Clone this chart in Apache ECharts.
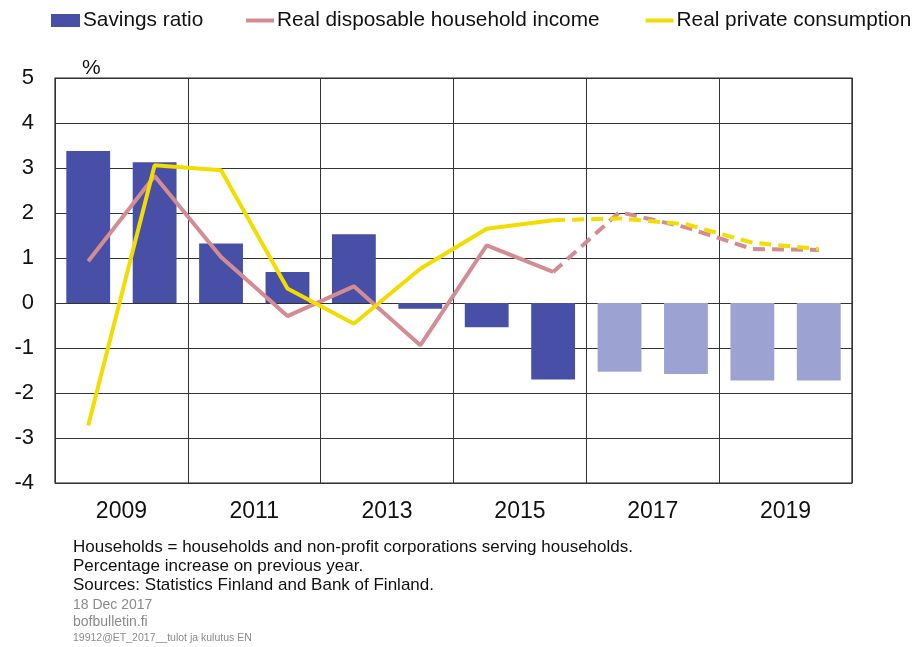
<!DOCTYPE html>
<html>
<head>
<meta charset="utf-8">
<script src="https://cdn.jsdelivr.net/npm/echarts@6/dist/echarts.min.js"></script>
<style>html,body{margin:0;padding:0;background:#fff}#c{width:920px;height:647px}</style>
</head>
<body>
<div id="c"></div>
<script>
const years = ['2009','2010','2011','2012','2013','2014','2015','2016','2017','2018','2019','2020'];
const tickYears = ['2009','2011','2013','2015','2017','2019'];
const savingsRatio = [3.38, 3.13, 1.32, 0.69, 1.53, -0.13, -0.54, -1.70, -1.53, -1.58, -1.72, -1.72];
const disposableIncome = [0.93, 2.82, 1.02, -0.29, 0.37, -0.94, 1.28, 0.69, 2.02, 1.68, 1.20, 1.18];
const privateConsumption = [-2.72, 3.06, 2.95, 0.32, -0.46, 0.76, 1.65, 1.84, 1.88, 1.75, 1.34, 1.20];
const forecastStart = 8; // index of first forecast bar (2017)
const lastActual = 7;    // index where dashed lines begin (2016)

const FONT = 'Liberation Sans, Arial, sans-serif';
const BAR_DARK = '#4750a6', BAR_LIGHT = '#9ca3d3';
const PINK = '#d48c93', YELLOW = '#f3dc00';

function solidPart(arr){ return arr.map((v,i)=> i<=lastActual ? v : null); }
function dashPart(arr){ return arr.map((v,i)=> i>=lastActual ? v : null); }

const legendText = {fontFamily:FONT, fontSize:20.8, color:'#111', padding:[0,0,0,-2]};

const chart = echarts.init(document.getElementById('c'), null, {renderer:'canvas'});
chart.setOption({
  animation:false,
  textStyle:{fontFamily:FONT},
  legend:[
    {top:10, left:51, itemWidth:29, itemHeight:13, padding:0,
     textStyle:legendText,
     data:[{name:'Savings ratio', icon:'rect'}]},
    {top:10, left:246, itemWidth:28, itemHeight:4, itemGap:46, padding:0,
     textStyle:legendText, icon:'rect',
     data:['Real disposable household income','Real private consumption']}
  ],
  grid:{left:55, right:68, top:78, bottom:164, show:true, borderColor:'#222', borderWidth:1.2},
  xAxis:[
    {type:'category', data:years, show:false},
    {type:'category', data:tickYears, position:'bottom', boundaryGap:true,
     axisLine:{show:false}, axisTick:{show:false},
     axisLabel:{fontFamily:FONT, fontSize:23, color:'#111', margin:17},
     splitLine:{show:true, lineStyle:{color:'#333', width:1}}}
  ],
  yAxis:{type:'value', min:-4, max:5, interval:1,
    axisLine:{show:false}, axisTick:{show:false},
    axisLabel:{fontFamily:FONT, fontSize:22, color:'#111', margin:21},
    splitLine:{show:true, lineStyle:{color:'#333', width:1}}},
  series:[
    {name:'Savings ratio', type:'bar', xAxisIndex:0, barCategoryGap:'34%',
     itemStyle:{color:BAR_DARK},
     data:savingsRatio.map((v,i)=>({value:v, itemStyle:{color: i>=forecastStart?BAR_LIGHT:BAR_DARK}}))},
    {name:'Real disposable household income', type:'line', xAxisIndex:0, symbol:'none',
     lineStyle:{color:PINK, width:4}, itemStyle:{color:PINK}, data:solidPart(disposableIncome)},
    {name:'Real disposable household income', type:'line', xAxisIndex:0, symbol:'none',
     lineStyle:{color:PINK, width:4, type:[12,7]}, itemStyle:{color:PINK}, data:dashPart(disposableIncome)},
    {name:'Real private consumption', type:'line', xAxisIndex:0, symbol:'none',
     lineStyle:{color:YELLOW, width:4}, itemStyle:{color:YELLOW}, data:solidPart(privateConsumption)},
    {name:'Real private consumption', type:'line', xAxisIndex:0, symbol:'none',
     lineStyle:{color:YELLOW, width:4, type:[12,7]}, itemStyle:{color:YELLOW}, data:dashPart(privateConsumption)}
  ],
  graphic:[
    {type:'text', x:82, y:68, style:{text:'%', font:'21px '+FONT, fill:'#111', verticalAlign:'middle'}},
    {type:'text', x:73, y:547, style:{text:'Households = households and non-profit corporations serving households.', font:'17px '+FONT, fill:'#111', verticalAlign:'middle'}},
    {type:'text', x:73, y:566, style:{text:'Percentage increase on previous year.', font:'17px '+FONT, fill:'#111', verticalAlign:'middle'}},
    {type:'text', x:73, y:585, style:{text:'Sources: Statistics Finland and Bank of Finland.', font:'17px '+FONT, fill:'#111', verticalAlign:'middle'}},
    {type:'text', x:73, y:605, style:{text:'18 Dec 2017', font:'14px '+FONT, fill:'#8a8a8a', verticalAlign:'middle'}},
    {type:'text', x:73, y:622, style:{text:'bofbulletin.fi', font:'14px '+FONT, fill:'#8a8a8a', verticalAlign:'middle'}},
    {type:'text', x:73, y:638, style:{text:'19912@ET_2017__tulot ja kulutus EN', font:'10.5px '+FONT, fill:'#8a8a8a', verticalAlign:'middle'}}
  ]
});
</script>
</body>
</html>
